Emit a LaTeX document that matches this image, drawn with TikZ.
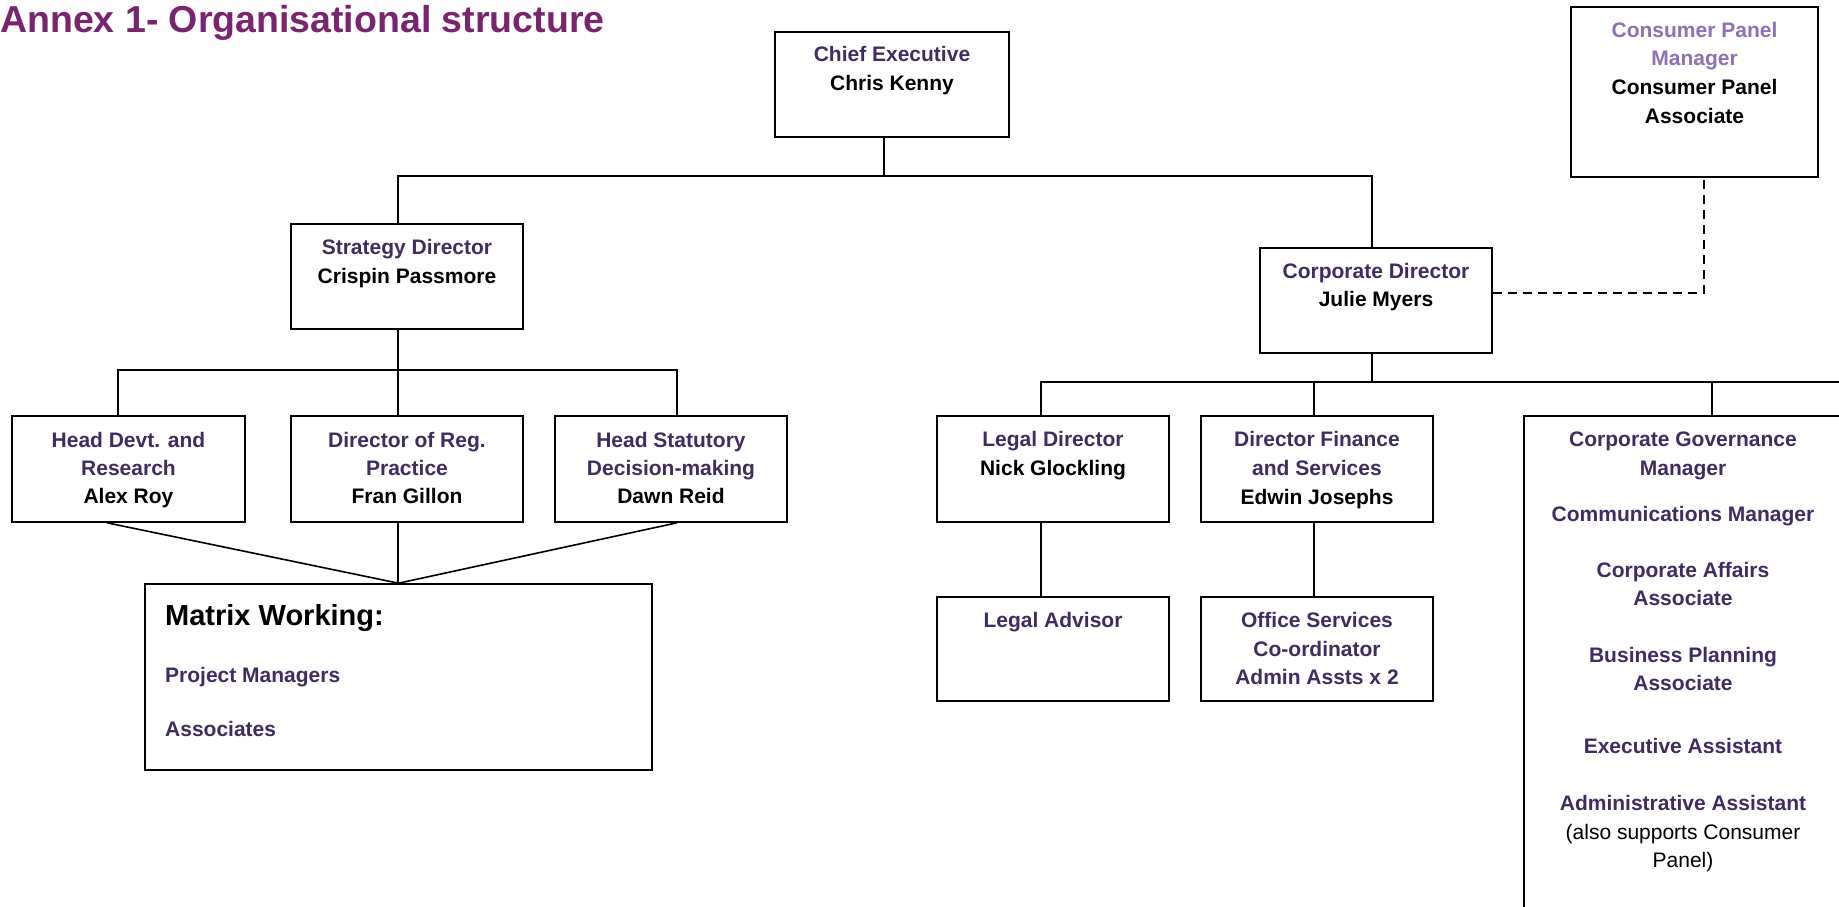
\documentclass[tikz,border=0pt]{standalone}
\usepackage{fontspec}
\setmainfont{Liberation Sans}
\definecolor{ttl}{RGB}{122,35,112}
\definecolor{dp}{RGB}{64,44,98}
\definecolor{lav}{RGB}{142,112,182}
\begin{document}
\begin{tikzpicture}[x=1pt,y=-1pt,
  box/.style={draw=black, line width=1.6pt, inner sep=0pt},
  conn/.style={draw=black, line width=1.6pt},
  dconn/.style={draw=black, line width=1.6pt, dash pattern=on 9pt off 6pt},
  role/.style={font=\bfseries\fontsize{21}{25}\selectfont, text=dp, anchor=base, inner sep=0pt},
  pname/.style={font=\bfseries\fontsize{21}{25}\selectfont, text=black, anchor=base, inner sep=0pt},
  lrole/.style={font=\bfseries\fontsize{21}{25}\selectfont, text=lav, anchor=base, inner sep=0pt},
  note/.style={font=\fontsize{21}{25}\selectfont, text=black, anchor=base, inner sep=0pt},
  mrole/.style={font=\bfseries\fontsize{21}{25}\selectfont, text=dp, anchor=base west, inner sep=0pt},
  titlestyle/.style={font=\bfseries\fontsize{37.5}{40}\selectfont, text=ttl, anchor=base west, inner sep=0pt}]
\useasboundingbox (0,0) rectangle (1839,907);
\clip (0,0) rectangle (1839,907);
\fill[white] (0,0) rectangle (1839,907);

% title
\node[titlestyle] (title) at (0,33) {Annex 1- Organisational structure};

% boxes
\node[box, minimum width=234pt, minimum height=105pt] (ce) at (892,84.5) {};
\node[box, minimum width=247pt, minimum height=170pt] (cp) at (1694.5,92) {};
\node[box, minimum width=232pt, minimum height=105pt] (sd) at (407,276.5) {};
\node[box, minimum width=232pt, minimum height=105pt] (cd) at (1376,300.5) {};
\node[box, minimum width=233pt, minimum height=106pt] (hd) at (128.5,469) {};
\node[box, minimum width=232pt, minimum height=106pt] (dr) at (407,469) {};
\node[box, minimum width=232pt, minimum height=106pt] (hs) at (671,469) {};
\node[box, minimum width=507pt, minimum height=186pt] (mw) at (398.5,677) {};
\node[box, minimum width=232pt, minimum height=106pt] (ld) at (1053,469) {};
\node[box, minimum width=232pt, minimum height=106pt] (df) at (1317,469) {};
\node[box, minimum width=232pt, minimum height=104pt] (la) at (1053,649) {};
\node[box, minimum width=232pt, minimum height=104pt] (os) at (1317,649) {};
\node[box, minimum width=326pt, minimum height=514pt] (cg) at (1687,673) {};

% junction coordinates
\coordinate (cebus) at (884,176);
\coordinate (sdtop) at (398,176);
\coordinate (cdtop) at (1372,176);
\coordinate (sdb) at (398,370);
\coordinate (hdb) at (118,370);
\coordinate (hsb) at (677,370);
\coordinate (cdb) at (1372,382);
\coordinate (ldb) at (1041,382);
\coordinate (dfb) at (1314,382);
\coordinate (cgb) at (1712,382);
\coordinate (busend) at (1850,382);
\coordinate (cpd) at (1704,293);

% connectors
\draw[conn] (ce.south -| cebus) -- (cebus);
\draw[conn] (sd.north -| sdtop) -- (sdtop) -- (cdtop) -- (cd.north -| cdtop);
\draw[conn] (sd.south -| sdb) -- (sdb);
\draw[conn] (hd.north -| hdb) -- (hdb) -- (hsb) -- (hs.north -| hsb);
\draw[conn] (sdb) -- (dr.north -| sdb);
\draw[conn] ([xshift=-21.5pt]hd.south) -- (mw.north);
\draw[conn] (dr.south -| sdb) -- (mw.north -| sdb);
\draw[conn] ([xshift=6pt]hs.south) -- (mw.north);
\draw[conn] (cd.south -| cdb) -- (cdb);
\draw[conn] (ld.north -| ldb) -- (ldb) -- (busend);
\draw[conn] (df.north -| dfb) -- (dfb);
\draw[conn] (cg.north -| cgb) -- (cgb);
\draw[conn] (ld.south -| ldb) -- (la.north -| ldb);
\draw[conn] (df.south -| dfb) -- (os.north -| dfb);
\draw[dconn] (cd.east |- cpd) -- (cpd) -- (cp.south -| cpd);

% texts
\node[role]  (ceT1) at (892,62) {Chief Executive};
\node[pname] (ceT2) at (892,90) {Chris Kenny};

\node[lrole] (cpT1) at (1694.5,38) {Consumer Panel};
\node[lrole] (cpT2) at (1694.5,66) {Manager};
\node[pname] (cpT3) at (1694.5,95) {Consumer Panel};
\node[pname] (cpT4) at (1694.5,123) {Associate};

\node[role]  (sdT1) at (407,254) {Strategy Director};
\node[pname] (sdT2) at (407,283) {Crispin Passmore};

\node[role]  (cdT1) at (1376,278) {Corporate Director};
\node[pname] (cdT2) at (1376,306) {Julie Myers};

\node[role]  (hdT1) at (128.5,447) {Head Devt. and};
\node[role]  (hdT2) at (128.5,475) {Research};
\node[pname] (hdT3) at (128.5,503) {Alex Roy};

\node[role]  (drT1) at (407,447) {Director of Reg.};
\node[role]  (drT2) at (407,475) {Practice};
\node[pname] (drT3) at (407,503) {Fran Gillon};

\node[role]  (hsT1) at (671,447) {Head Statutory};
\node[role]  (hsT2) at (671,475) {Decision-making};
\node[pname] (hsT3) at (671,503) {Dawn Reid};

\node[font=\bfseries\fontsize{29}{33}\selectfont, text=black, anchor=base west, inner sep=0pt] (mwT1) at (165,625) {Matrix Working:};
\node[mrole] (mwT2) at (165,682) {Project Managers};
\node[mrole] (mwT3) at (165,736) {Associates};

\node[role]  (ldT1) at (1053,446) {Legal Director};
\node[pname] (ldT2) at (1053,475) {Nick Glockling};

\node[role]  (dfT1) at (1317,446) {Director Finance};
\node[role]  (dfT2) at (1317,475) {and Services};
\node[pname] (dfT3) at (1317,504) {Edwin Josephs};

\node[role]  (laT1) at (1053,627) {Legal Advisor};

\node[role]  (osT1) at (1317,627) {Office Services};
\node[role]  (osT2) at (1317,656) {Co-ordinator};
\node[role]  (osT3) at (1317,684) {Admin Assts x 2};

\node[role]  (cgT1) at (1683,446) {Corporate Governance};
\node[role]  (cgT2) at (1683,475) {Manager};
\node[role]  (cgT3) at (1683,521) {Communications Manager};
\node[role]  (cgT4) at (1683,577) {Corporate Affairs};
\node[role]  (cgT5) at (1683,605) {Associate};
\node[role]  (cgT6) at (1683,662) {Business Planning};
\node[role]  (cgT7) at (1683,690) {Associate};
\node[role]  (cgT8) at (1683,753) {Executive Assistant};
\node[role]  (cgT9) at (1683,810) {Administrative Assistant};
\node[note]  (cgT10) at (1683,839) {(also supports Consumer};
\node[note]  (cgT11) at (1683,867) {Panel)};
\end{tikzpicture}
\end{document}
